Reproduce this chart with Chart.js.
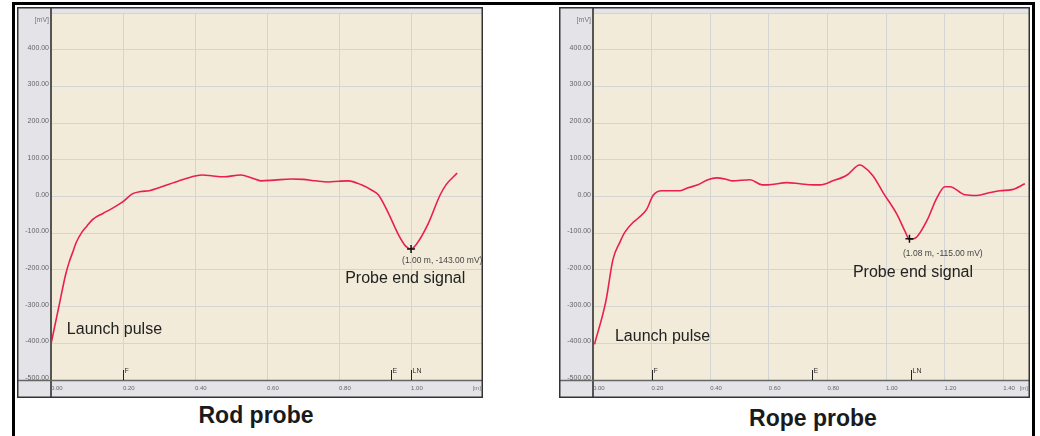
<!DOCTYPE html>
<html>
<head>
<meta charset="utf-8">
<script src="https://cdn.jsdelivr.net/npm/chart.js@4.4.1/dist/chart.umd.min.js"></script>
<style>
  body { margin: 0; background: #fff; width: 1040px; height: 436px; overflow: hidden; position: relative; font-family: 'Liberation Sans', Arial, sans-serif; }
  .frame { position: absolute; background: #000; }
  .box { position: absolute; }
  .title { position: absolute; font-weight: bold; font-size: 23px; line-height: 23px; color: #1a1a1a; white-space: nowrap; transform: translateX(-50%); }
</style>
</head>
<body>
<div class="frame" style="left:12px; top:2px; width:1023px; height:3px;"></div>
<div class="frame" style="left:12px; top:2px; width:3px; height:434px;"></div>
<div class="frame" style="left:1032px; top:2px; width:3px; height:434px;"></div>

<div class="box" style="left:17px; top:7px; width:466px; height:391px;"><canvas id="rod"></canvas></div>
<div class="box" style="left:559px; top:7px; width:471px; height:391px;"><canvas id="rope"></canvas></div>

<div class="title" style="left:256px; top:404px;">Rod probe</div>
<div class="title" style="left:813px; top:407px;">Rope probe</div>

<script>
// rod probe trace (distance in m, signal in mV)
const rodX = [0, 0.025, 0.04, 0.05, 0.061, 0.07, 0.086, 0.10, 0.116, 0.144, 0.17, 0.197, 0.227, 0.25, 0.273, 0.30, 0.356, 0.40, 0.42, 0.45, 0.48, 0.527, 0.56, 0.583, 0.62, 0.668, 0.70, 0.735, 0.77, 0.80, 0.826, 0.862, 0.89, 0.909, 0.936, 0.964, 0.985, 1.00, 1.014, 1.047, 1.08, 1.097, 1.128];
const rodMv = [-402, -285, -215, -180, -150, -125, -97, -80, -62, -46, -32, -16, 8, 14, 16, 24, 43, 56, 59, 56, 54, 59, 50, 43, 45, 48, 47, 43, 40, 42, 43, 32, 18, 5, -43, -102, -135, -143, -131, -75, 3, 32, 64];

// rope probe trace
const ropeX = [0.005, 0.044, 0.068, 0.092, 0.109, 0.137, 0.154, 0.183, 0.205, 0.235, 0.297, 0.324, 0.358, 0.392, 0.423, 0.45, 0.474, 0.536, 0.577, 0.597, 0.662, 0.706, 0.751, 0.775, 0.819, 0.867, 0.91, 0.921, 0.956, 0.99, 1.037, 1.065, 1.08, 1.105, 1.14, 1.174, 1.201, 1.218, 1.27, 1.31, 1.355, 1.389, 1.43, 1.474];
const ropeMv = [-403, -285, -172, -124, -97, -70, -59, -35, 3, 16, 16, 24, 32, 46, 51, 48, 43, 46, 32, 32, 38, 35, 32, 32, 43, 59, 86, 83, 56, 11, -48, -95, -117, -110, -65, -3, 27, 27, 5, 3, 11, 16, 19, 35];

// marker ticks on the distance axis
const rodMarkX = [0.20, 0.945, 1.00];
const rodMarkLbl = ['F', 'E', 'LN'];
const ropeMarkX = [0.20, 0.747, 1.085];
const ropeMarkLbl = ['F', 'E', 'LN'];

// probe end minimum
const rodMin = [1.00, -143];
const ropeMin = [1.08, -115];

const yTicks = [-500, -400, -300, -200, -100, 0, 100, 200, 300, 400, 500];
const FONT = "'Liberation Sans', Arial, sans-serif";

const panelPlugin = {
    id: 'panel',
    beforeDraw(chart) {
        const { ctx, chartArea: a, width, height } = chart;
        ctx.save();
        ctx.fillStyle = '#e4e4e8';
        ctx.fillRect(0, 0, width, height);
        ctx.fillStyle = '#f2ebd9';
        ctx.fillRect(a.left, a.top, a.right - a.left, a.bottom - a.top);
        ctx.restore();
    },
    afterDraw(chart, args, opts) {
        const { ctx, chartArea: a, width, height } = chart;
        const xs = chart.scales.x, ys = chart.scales.y;
        ctx.save();

        // axis strip borders
        ctx.strokeStyle = '#555';
        ctx.lineWidth = 2;
        ctx.beginPath();
        ctx.moveTo(a.left, 0); ctx.lineTo(a.left, height);
        ctx.stroke();
        ctx.lineWidth = 1.5;
        ctx.strokeStyle = '#666';
        ctx.beginPath();
        ctx.moveTo(0, a.bottom + 0.5); ctx.lineTo(width, a.bottom + 0.5);
        ctx.stroke();
        ctx.strokeStyle = '#333';
        ctx.strokeRect(0.75, 0.75, width - 1.5, height - 1.5);

        // unit labels
        ctx.fillStyle = '#777';
        ctx.textAlign = 'right';
        ctx.textBaseline = 'middle';
        ctx.font = '7px ' + FONT;
        ctx.fillText('[mV]', a.left - 2, a.top + 7);
        ctx.font = '6px ' + FONT;
        ctx.fillText('[m]', a.right - 1, a.bottom + 8);

        // F / E / LN markers
        opts.markX.forEach((v, i) => {
            const px = Math.round(xs.getPixelForValue(v)) + 0.5;
            ctx.strokeStyle = '#222';
            ctx.lineWidth = 1;
            ctx.beginPath();
            ctx.moveTo(px, a.bottom);
            ctx.lineTo(px, a.bottom - 10);
            ctx.stroke();
            ctx.font = '7px ' + FONT;
            ctx.fillStyle = '#333';
            ctx.textAlign = 'left';
            ctx.textBaseline = 'top';
            ctx.fillText(opts.markLbl[i], px + 1, a.bottom - 12);
        });

        // minimum cross
        const mx = xs.getPixelForValue(opts.min[0]);
        const my = ys.getPixelForValue(opts.min[1]);
        ctx.strokeStyle = '#111';
        ctx.lineWidth = 1.5;
        ctx.beginPath();
        ctx.moveTo(mx - 4, my); ctx.lineTo(mx + 4, my);
        ctx.moveTo(mx, my - 4); ctx.lineTo(mx, my + 4);
        ctx.stroke();

        // annotations
        ctx.textAlign = 'left';
        ctx.textBaseline = 'middle';
        opts.notes.forEach(n => {
            ctx.font = n.size + 'px ' + FONT;
            ctx.fillStyle = n.color;
            ctx.fillText(n.text, xs.getPixelForValue(n.x), ys.getPixelForValue(n.y));
        });
        ctx.restore();
    }
};

function makeProbeChart(id, xs, ys, xMax, markX, markLbl, min, notes) {
    const pts = xs.map((x, i) => ({ x: x, y: ys[i] }));
    new Chart(document.getElementById(id), {
        type: 'line',
        data: {
            datasets: [{
                data: pts,
                borderColor: '#ea1f4e',
                borderWidth: 1.6,
                pointRadius: 0,
                cubicInterpolationMode: 'monotone',
                fill: false
            }]
        },
        options: {
            responsive: true,
            maintainAspectRatio: false,
            animation: false,
            devicePixelRatio: 1,
            layout: { padding: { left: 1, top: 1, right: 1, bottom: 1 } },
            plugins: {
                legend: { display: false },
                tooltip: { enabled: false },
                panel: { markX: markX, markLbl: markLbl, min: min, notes: notes }
            },
            scales: {
                x: {
                    type: 'linear',
                    min: 0,
                    max: xMax,
                    afterFit: s => { s.height = 17; },
                    border: { display: false },
                    grid: { color: '#d4d4d4', lineWidth: 1, drawTicks: false },
                    ticks: {
                        stepSize: 0.2,
                        includeBounds: false,
                        align: 'start',
                        padding: 5,
                        color: '#666',
                        font: { family: FONT, size: 6 },
                        maxRotation: 0,
                        callback: v => v.toFixed(2)
                    }
                },
                y: {
                    min: -500,
                    max: 500,
                    afterFit: s => { s.width = 33; },
                    afterBuildTicks: s => { s.ticks = yTicks.map(v => ({ value: v })); },
                    border: { display: false },
                    grid: { color: '#d4d4d4', lineWidth: 1, drawTicks: false },
                    ticks: {
                        padding: 2,
                        labelOffset: -2,
                        color: '#666',
                        font: { family: FONT, size: 7 },
                        callback: v => v === 500 ? '' : v.toFixed(2)
                    }
                }
            }
        },
        plugins: [panelPlugin]
    });
}

makeProbeChart('rod', rodX, rodMv, 1.197, rodMarkX, rodMarkLbl, rodMin, [
    { text: 'Launch pulse', x: 0.044, y: -363, size: 16, color: '#222' },
    { text: 'Probe end signal', x: 0.817, y: -223, size: 16, color: '#222' },
    { text: '(1.00 m, -143.00 mV)', x: 0.975, y: -175, size: 8.5, color: '#444' }
]);

makeProbeChart('rope', ropeX, ropeMv, 1.488, ropeMarkX, ropeMarkLbl, ropeMin, [
    { text: 'Launch pulse', x: 0.075, y: -382, size: 16, color: '#222' },
    { text: 'Probe end signal', x: 0.887, y: -207, size: 16, color: '#222' },
    { text: '(1.08 m, -115.00 mV)', x: 1.058, y: -156, size: 8.5, color: '#444' }
]);
</script>
</body>
</html>
